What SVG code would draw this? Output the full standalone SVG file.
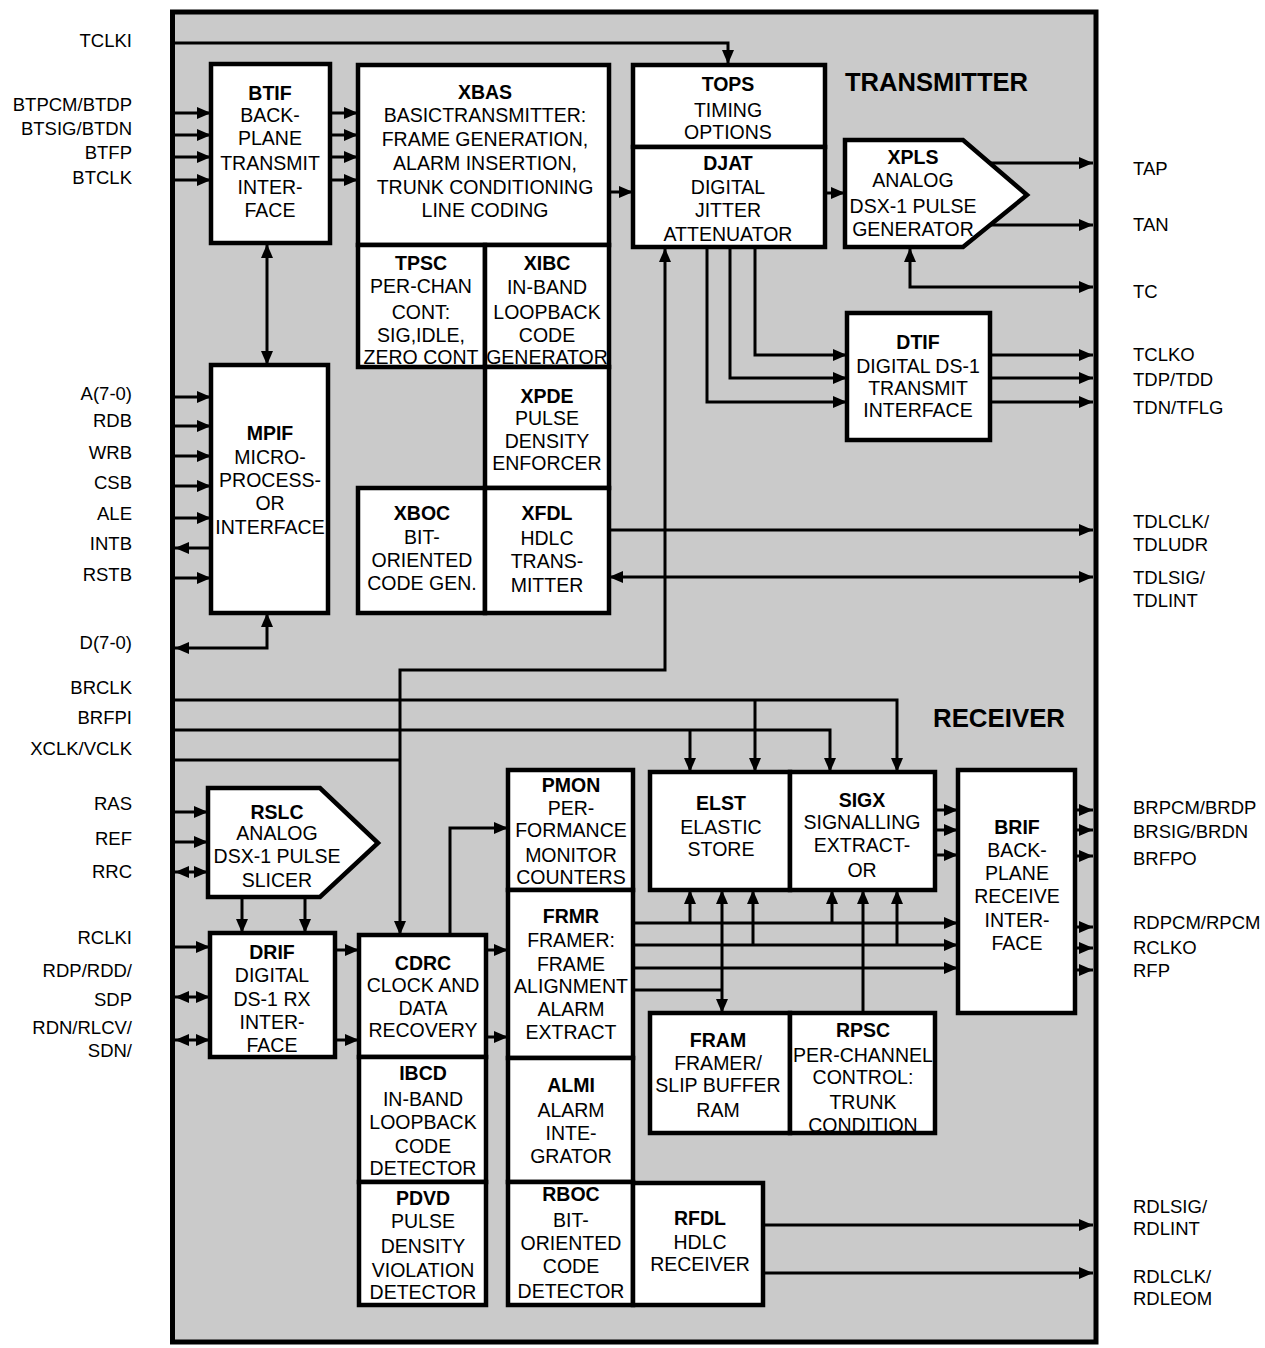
<svg xmlns="http://www.w3.org/2000/svg" width="1265" height="1348" viewBox="0 0 1265 1348">
<style>
text{font-family:"Liberation Sans",Arial,Helvetica,sans-serif;font-size:19.5px;fill:#000}
.c{text-anchor:middle}
.b{font-weight:bold}
.pl{text-anchor:end;font-size:18.5px}
.pr{text-anchor:start;font-size:18.5px}
.h{font-weight:bold;font-size:25px}
.box{fill:#fff;stroke:#000;stroke-width:4.5}
.ln{fill:none;stroke:#000;stroke-width:3}
</style>
<defs>
<marker id="ah" viewBox="0 0 14 12" refX="14" refY="6" markerWidth="14" markerHeight="12" markerUnits="userSpaceOnUse" orient="auto-start-reverse"><path d="M0,0 L14,6 L0,12 z" fill="#000"/></marker>
</defs>
<rect width="1265" height="1348" fill="#fff"/>
<rect id="chip" x="172.5" y="12" width="923.5" height="1330" fill="#cacaca" stroke="#000" stroke-width="5"/>
<text class="h" x="845" y="91" textLength="183" lengthAdjust="spacingAndGlyphs">TRANSMITTER</text>
<text class="h" x="933" y="727" textLength="132" lengthAdjust="spacingAndGlyphs">RECEIVER</text>

<g id="btif"><rect class="box" x="211" y="64" width="119" height="179"/>
<text class="c b" x="270" y="100">BTIF</text><text class="c" x="270" y="122">BACK-</text><text class="c" x="270" y="145">PLANE</text><text class="c" x="270" y="170">TRANSMIT</text><text class="c" x="270" y="194">INTER-</text><text class="c" x="270" y="217">FACE</text></g>
<g id="xbas"><rect class="box" x="358" y="65" width="251" height="180"/>
<text class="c b" x="485" y="99">XBAS</text><text class="c" x="485" y="122">BASICTRANSMITTER:</text><text class="c" x="485" y="146">FRAME GENERATION,</text><text class="c" x="485" y="170">ALARM INSERTION,</text><text class="c" x="485" y="194">TRUNK CONDITIONING</text><text class="c" x="485" y="217">LINE CODING</text></g>
<g id="tpsc"><rect class="box" x="358" y="245" width="127" height="122"/>
<text class="c b" x="421" y="270">TPSC</text><text class="c" x="421" y="293">PER-CHAN</text><text class="c" x="421" y="319">CONT:</text><text class="c" x="421" y="342">SIG,IDLE,</text><text class="c" x="421" y="364">ZERO CONT</text></g>
<g id="xibc"><rect class="box" x="485" y="245" width="124" height="122"/>
<text class="c b" x="547" y="270">XIBC</text><text class="c" x="547" y="294">IN-BAND</text><text class="c" x="547" y="319">LOOPBACK</text><text class="c" x="547" y="342">CODE</text><text class="c" x="547" y="364">GENERATOR</text></g>
<g id="xpde"><rect class="box" x="485" y="367" width="124" height="121"/>
<text class="c b" x="547" y="403">XPDE</text><text class="c" x="547" y="425">PULSE</text><text class="c" x="547" y="448">DENSITY</text><text class="c" x="547" y="470">ENFORCER</text></g>
<g id="xboc"><rect class="box" x="358" y="488" width="127" height="125"/>
<text class="c b" x="422" y="520">XBOC</text><text class="c" x="422" y="544">BIT-</text><text class="c" x="422" y="567">ORIENTED</text><text class="c" x="422" y="590">CODE GEN.</text></g>
<g id="xfdl"><rect class="box" x="485" y="488" width="124" height="125"/>
<text class="c b" x="547" y="520">XFDL</text><text class="c" x="547" y="545">HDLC</text><text class="c" x="547" y="568">TRANS-</text><text class="c" x="547" y="592">MITTER</text></g>
<g id="tops"><rect class="box" x="633" y="65" width="192" height="82"/>
<text class="c b" x="728" y="91">TOPS</text><text class="c" x="728" y="117">TIMING</text><text class="c" x="728" y="139">OPTIONS</text></g>
<g id="djat"><rect class="box" x="633" y="147" width="192" height="100"/>
<text class="c b" x="728" y="170">DJAT</text><text class="c" x="728" y="194">DIGITAL</text><text class="c" x="728" y="217">JITTER</text><text class="c" x="728" y="241">ATTENUATOR</text></g>
<g id="xpls"><polygon class="box" points="845,140 963,140 1027,195 963,247 845,247"/>
<text class="c b" x="913" y="164">XPLS</text><text class="c" x="913" y="187">ANALOG</text><text class="c" x="913" y="213">DSX-1 PULSE</text><text class="c" x="913" y="236">GENERATOR</text></g>
<g id="dtif"><rect class="box" x="847" y="313" width="143" height="127"/>
<text class="c b" x="918" y="349">DTIF</text><text class="c" x="918" y="373">DIGITAL DS-1</text><text class="c" x="918" y="395">TRANSMIT</text><text class="c" x="918" y="417">INTERFACE</text></g>
<g id="mpif"><rect class="box" x="211" y="365" width="117" height="248"/>
<text class="c b" x="270" y="440">MPIF</text><text class="c" x="270" y="464">MICRO-</text><text class="c" x="270" y="487">PROCESS-</text><text class="c" x="270" y="510">OR</text><text class="c" x="270" y="534">INTERFACE</text></g>

<g id="rslc"><polygon class="box" points="208,788 320,788 378,843 320,897 208,897"/>
<text class="c b" x="277" y="819">RSLC</text><text class="c" x="277" y="840">ANALOG</text><text class="c" x="277" y="863">DSX-1 PULSE</text><text class="c" x="277" y="887">SLICER</text></g>
<g id="drif"><rect class="box" x="210" y="933" width="125" height="124"/>
<text class="c b" x="272" y="959">DRIF</text><text class="c" x="272" y="982">DIGITAL</text><text class="c" x="272" y="1006">DS-1 RX</text><text class="c" x="272" y="1029">INTER-</text><text class="c" x="272" y="1052">FACE</text></g>
<g id="cdrc"><rect class="box" x="359" y="935" width="127" height="122"/>
<text class="c b" x="423" y="970">CDRC</text><text class="c" x="423" y="992">CLOCK AND</text><text class="c" x="423" y="1015">DATA</text><text class="c" x="423" y="1037">RECOVERY</text></g>
<g id="ibcd"><rect class="box" x="359" y="1057" width="127" height="125"/>
<text class="c b" x="423" y="1080">IBCD</text><text class="c" x="423" y="1106">IN-BAND</text><text class="c" x="423" y="1129">LOOPBACK</text><text class="c" x="423" y="1153">CODE</text><text class="c" x="423" y="1175">DETECTOR</text></g>
<g id="pdvd"><rect class="box" x="359" y="1182" width="127" height="123"/>
<text class="c b" x="423" y="1205">PDVD</text><text class="c" x="423" y="1228">PULSE</text><text class="c" x="423" y="1253">DENSITY</text><text class="c" x="423" y="1277">VIOLATION</text><text class="c" x="423" y="1299">DETECTOR</text></g>
<g id="pmon"><rect class="box" x="508" y="770" width="125" height="120"/>
<text class="c b" x="571" y="792">PMON</text><text class="c" x="571" y="815">PER-</text><text class="c" x="571" y="837">FORMANCE</text><text class="c" x="571" y="862">MONITOR</text><text class="c" x="571" y="884">COUNTERS</text></g>
<g id="frmr"><rect class="box" x="508" y="890" width="125" height="168"/>
<text class="c b" x="571" y="923">FRMR</text><text class="c" x="571" y="947">FRAMER:</text><text class="c" x="571" y="971">FRAME</text><text class="c" x="571" y="993">ALIGNMENT</text><text class="c" x="571" y="1016">ALARM</text><text class="c" x="571" y="1039">EXTRACT</text></g>
<g id="almi"><rect class="box" x="508" y="1058" width="125" height="124"/>
<text class="c b" x="571" y="1092">ALMI</text><text class="c" x="571" y="1117">ALARM</text><text class="c" x="571" y="1140">INTE-</text><text class="c" x="571" y="1163">GRATOR</text></g>
<g id="rboc"><rect class="box" x="508" y="1182" width="125" height="123"/>
<text class="c b" x="571" y="1201">RBOC</text><text class="c" x="571" y="1227">BIT-</text><text class="c" x="571" y="1250">ORIENTED</text><text class="c" x="571" y="1273">CODE</text><text class="c" x="571" y="1298">DETECTOR</text></g>
<g id="rfdl"><rect class="box" x="633" y="1183" width="130" height="122"/>
<text class="c b" x="700" y="1225">RFDL</text><text class="c" x="700" y="1249">HDLC</text><text class="c" x="700" y="1271">RECEIVER</text></g>
<g id="elst"><rect class="box" x="650" y="772" width="140" height="118"/>
<text class="c b" x="721" y="810">ELST</text><text class="c" x="721" y="834">ELASTIC</text><text class="c" x="721" y="856">STORE</text></g>
<g id="sigx"><rect class="box" x="790" y="772" width="145" height="118"/>
<text class="c b" x="862" y="807">SIGX</text><text class="c" x="862" y="829">SIGNALLING</text><text class="c" x="862" y="852">EXTRACT-</text><text class="c" x="862" y="877">OR</text></g>
<g id="fram"><rect class="box" x="650" y="1013" width="140" height="120"/>
<text class="c b" x="718" y="1047">FRAM</text><text class="c" x="718" y="1070">FRAMER/</text><text class="c" x="718" y="1092">SLIP BUFFER</text><text class="c" x="718" y="1117">RAM</text></g>
<g id="rpsc"><rect class="box" x="790" y="1013" width="145" height="120"/>
<text class="c b" x="863" y="1037">RPSC</text><text class="c" x="863" y="1062">PER-CHANNEL</text><text class="c" x="863" y="1084">CONTROL:</text><text class="c" x="863" y="1109">TRUNK</text><text class="c" x="863" y="1132">CONDITION</text></g>
<g id="brif"><rect class="box" x="958" y="770" width="117" height="243"/>
<text class="c b" x="1017" y="834">BRIF</text><text class="c" x="1017" y="857">BACK-</text><text class="c" x="1017" y="880">PLANE</text><text class="c" x="1017" y="903">RECEIVE</text><text class="c" x="1017" y="927">INTER-</text><text class="c" x="1017" y="950">FACE</text></g>

<g id="connectors" class="ln" marker-end="url(#ah)">
<path d="M175,43 H728 V64"/>
<path d="M175,113 H211"/><path d="M175,135 H211"/><path d="M175,157 H211"/><path d="M175,180 H211"/>
<path d="M330,113 H358"/><path d="M330,135 H358"/><path d="M330,157 H358"/><path d="M330,180 H358"/>
<path d="M267,244 V365" marker-start="url(#ah)"/>
<path d="M609,192 H633"/>
<path d="M825,193 H845"/>
<path d="M990,163 H1093"/>
<path d="M990,225 H1093"/>
<path d="M910,248 V287 H1093" marker-start="url(#ah)"/>
<path d="M755,247 V355 H847"/>
<path d="M730,247 V378 H847"/>
<path d="M707,247 V402 H847"/>
<path d="M990,355 H1093"/><path d="M990,378 H1093"/><path d="M990,402 H1093"/>
<path d="M609,530 H1093"/>
<path d="M609,577 H1093" marker-start="url(#ah)"/>
<path d="M175,397 H211"/><path d="M175,426 H211"/><path d="M175,456 H211"/><path d="M175,486 H211"/><path d="M175,518 H211"/><path d="M175,578 H211"/>
<path d="M211,548 H175"/>
<path d="M267,613 V648 H175" marker-start="url(#ah)"/>
<path d="M665,248 V670 H400 V935" marker-start="url(#ah)"/>
<path d="M175,760 H400" marker-end="none"/>
<path d="M175,700 H897 V772"/>
<path d="M755,700 V772"/>
<path d="M175,730 H830 V772"/>
<path d="M690,730 V772"/>
<path d="M175,812 H208"/><path d="M175,842 H208"/>
<path d="M175,872 H208" marker-start="url(#ah)"/>
<path d="M242,897 V933"/><path d="M305,897 V933"/>
<path d="M175,947 H210"/>
<path d="M175,997 H210" marker-start="url(#ah)"/>
<path d="M175,1040 H210" marker-start="url(#ah)"/>
<path d="M335,950 H359"/><path d="M335,1040 H359"/>
<path d="M450,935 V828 H508"/>
<path d="M486,950 H508"/><path d="M486,1037 H508"/>
<path d="M633,923 H958"/><path d="M633,945 H958"/><path d="M633,968 H958"/>
<path d="M690,923 V890"/><path d="M832,923 V890"/>
<path d="M753,945 V890"/><path d="M897,945 V890"/>
<path d="M633,990 H722" marker-end="none"/>
<path d="M722,890 V1013" marker-start="url(#ah)"/>
<path d="M863,1013 V890"/>
<path d="M935,810 H958"/><path d="M935,830 H958"/><path d="M935,855 H958"/>
<path d="M1075,810 H1093"/><path d="M1075,830 H1093"/><path d="M1075,856 H1093"/>
<path d="M1075,927 H1093"/><path d="M1075,948 H1093"/><path d="M1075,970 H1093"/>
<path d="M763,1225 H1093"/><path d="M763,1273 H1093"/>
</g>

<g id="pins-left">
<text class="pl" x="132" y="47">TCLKI</text>
<text class="pl" x="132" y="111">BTPCM/BTDP</text>
<text class="pl" x="132" y="135">BTSIG/BTDN</text>
<text class="pl" x="132" y="159">BTFP</text>
<text class="pl" x="132" y="184">BTCLK</text>
<text class="pl" x="132" y="400">A(7-0)</text>
<text class="pl" x="132" y="427">RDB</text>
<text class="pl" x="132" y="459">WRB</text>
<text class="pl" x="132" y="489">CSB</text>
<text class="pl" x="132" y="520">ALE</text>
<text class="pl" x="132" y="550">INTB</text>
<text class="pl" x="132" y="581">RSTB</text>
<text class="pl" x="132" y="649">D(7-0)</text>
<text class="pl" x="132" y="694">BRCLK</text>
<text class="pl" x="132" y="724">BRFPI</text>
<text class="pl" x="132" y="755">XCLK/VCLK</text>
<text class="pl" x="132" y="810">RAS</text>
<text class="pl" x="132" y="845">REF</text>
<text class="pl" x="132" y="878">RRC</text>
<text class="pl" x="132" y="944">RCLKI</text>
<text class="pl" x="132" y="977">RDP/RDD/</text>
<text class="pl" x="132" y="1006">SDP</text>
<text class="pl" x="132" y="1034">RDN/RLCV/</text>
<text class="pl" x="132" y="1057">SDN/</text>
</g>
<g id="pins-right">
<text class="pr" x="1133" y="175">TAP</text>
<text class="pr" x="1133" y="231">TAN</text>
<text class="pr" x="1133" y="298">TC</text>
<text class="pr" x="1133" y="361">TCLKO</text>
<text class="pr" x="1133" y="386">TDP/TDD</text>
<text class="pr" x="1133" y="414">TDN/TFLG</text>
<text class="pr" x="1133" y="528">TDLCLK/</text>
<text class="pr" x="1133" y="551">TDLUDR</text>
<text class="pr" x="1133" y="584">TDLSIG/</text>
<text class="pr" x="1133" y="607">TDLINT</text>
<text class="pr" x="1133" y="814">BRPCM/BRDP</text>
<text class="pr" x="1133" y="838">BRSIG/BRDN</text>
<text class="pr" x="1133" y="865">BRFPO</text>
<text class="pr" x="1133" y="929">RDPCM/RPCM</text>
<text class="pr" x="1133" y="954">RCLKO</text>
<text class="pr" x="1133" y="977">RFP</text>
<text class="pr" x="1133" y="1213">RDLSIG/</text>
<text class="pr" x="1133" y="1235">RDLINT</text>
<text class="pr" x="1133" y="1283">RDLCLK/</text>
<text class="pr" x="1133" y="1305">RDLEOM</text>
</g>
</svg>
